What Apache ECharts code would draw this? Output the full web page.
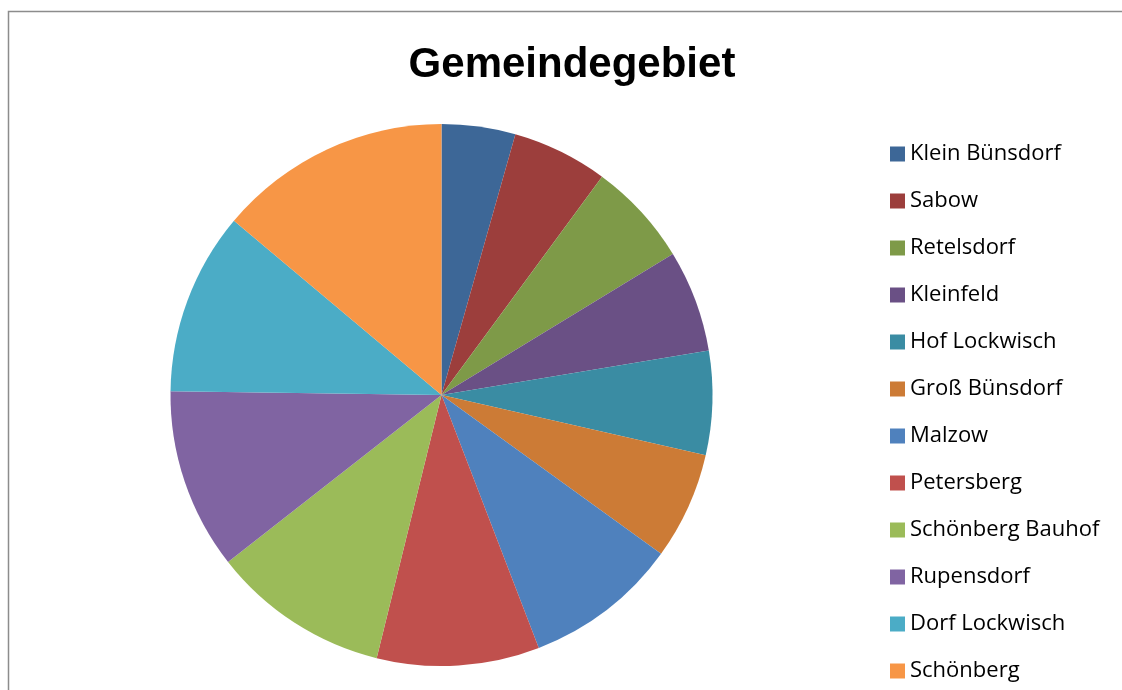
<!DOCTYPE html>
<html>
<head>
    <meta charset="utf-8">
    <title>Gemeindegebiet</title>
    <script src="https://cdn.jsdelivr.net/npm/echarts@6/dist/echarts.min.js"></script>
</head>
<style>
    html, body { margin: 0; padding: 0; background: #fff; }
    #chartmain { width: 1122px; height: 690px; }
</style>
<body>
    <div id="chartmain"></div>
</body>
<script type="text/javascript">
    // Ortsteile und Anteile
    var ortsteile = ['Klein Bünsdorf', 'Sabow', 'Retelsdorf', 'Kleinfeld', 'Hof Lockwisch', 'Groß Bünsdorf',
        'Malzow', 'Petersberg', 'Schönberg Bauhof', 'Rupensdorf', 'Dorf Lockwisch', 'Schönberg'];
    var anteile = [4.4, 5.7, 6.2, 6.1, 6.2, 6.4, 9.2, 9.7, 10.6, 10.8, 10.9, 13.9];
    var farben = ['#3D6797', '#9C3E3C', '#7E9A48', '#6A5085', '#3A8CA3', '#CC7B36',
        '#4F81BD', '#C0504D', '#9BBB59', '#8064A2', '#4BACC6', '#F79646'];

    var daten = [];
    for (var i = 0; i < ortsteile.length; i++) {
        daten.push({ name: ortsteile[i], value: anteile[i], itemStyle: { color: farben[i] } });
    }

    var myChart = echarts.init(document.getElementById('chartmain'));
    myChart.setOption({
        animation: false,
        title: {
            text: 'Gemeindegebiet',
            left: 572,
            textAlign: 'center',
            top: 44,
            padding: 0,
            textStyle: { fontFamily: 'Liberation Sans', fontWeight: 'bold', fontSize: 42, color: '#000' }
        },
        legend: {
            orient: 'vertical',
            left: 890,
            top: 143,
            padding: 0,
            itemWidth: 15,
            itemHeight: 15,
            itemGap: 25,
            icon: 'rect',
            selectedMode: false,
            textStyle: { fontFamily: 'Open Sans', fontSize: 22, color: '#000', lineHeight: 22 },
            data: ortsteile
        },
        graphic: [{
            type: 'rect',
            shape: { x: 8.5, y: 11.5, width: 1300, height: 900 },
            style: { fill: 'none', stroke: '#8c8c8c', lineWidth: 1.5 },
            silent: true
        }],
        series: [{
            type: 'pie',
            center: [441.5, 395],
            radius: 271,
            startAngle: 90,
            clockwise: true,
            label: { show: false },
            labelLine: { show: false },
            emphasis: { disabled: true },
            itemStyle: { borderWidth: 0 },
            data: daten
        }]
    });
</script>
</html>
